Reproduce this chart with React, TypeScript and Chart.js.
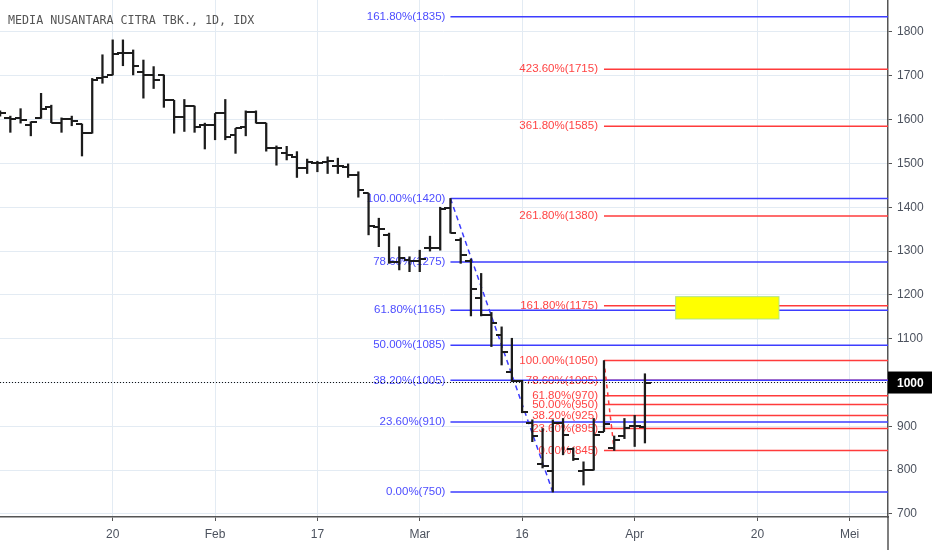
import React, { useEffect, useRef } from 'react';
import { Chart, registerables } from 'chart.js';

Chart.register(...registerables);

// daily OHLC, MNCN, mid Jan -> 2 Apr 2020 (index 0 = first visible bar)
const opens = [
  1612, 1603, 1603, 1588, 1603, 1629, 1593, 1601, 1589, 1569,
  1694, 1702, 1751, 1752, 1709, 1702, 1702, 1644, 1607, 1631,
  1588, 1588, 1614, 1565, 1584, 1618, 1592, 1535, 1523, 1515,
  1489, 1502, 1504, 1494, 1491, 1474, 1432, 1356, 1337, 1275,
  1280, 1278, 1306, 1306, 1398, 1325, 1277, 1192, 1155, 1108,
  1025, 1003, 908, 813, 797, 907, 849, 797, 800, 888,
  850, 878, 901, 899,
];
const highs = [
  1620, 1608, 1625, 1595, 1660, 1633, 1604, 1608, 1590, 1694,
  1748, 1782, 1782, 1759, 1736, 1721, 1702, 1644, 1646, 1631,
  1592, 1614, 1646, 1580, 1620, 1620, 1592, 1540, 1539, 1527,
  1510, 1505, 1515, 1512, 1499, 1481, 1432, 1375, 1341, 1310,
  1287, 1302, 1334, 1400, 1420, 1330, 1282, 1249, 1160, 1127,
  1101, 1005, 915, 895, 915, 918, 851, 819, 918, 1050,
  878, 918, 925, 1020,
];
const lows = [
  1608, 1571, 1592, 1563, 1603, 1593, 1571, 1586, 1517, 1569,
  1683, 1702, 1723, 1702, 1649, 1671, 1628, 1569, 1573, 1571,
  1533, 1554, 1554, 1523, 1563, 1592, 1528, 1496, 1508, 1468,
  1477, 1481, 1477, 1477, 1468, 1423, 1337, 1310, 1272, 1257,
  1253, 1253, 1300, 1302, 1341, 1272, 1152, 1152, 1082, 1040,
  1002, 931, 865, 805, 750, 835, 822, 766, 800, 888,
  845, 872, 854, 862,
];
const closes = [
  1616, 1601, 1598, 1595, 1624, 1593, 1601, 1597, 1569, 1690,
  1698, 1749, 1752, 1722, 1702, 1690, 1645, 1605, 1631, 1584,
  1588, 1614, 1561, 1580, 1618, 1592, 1535, 1535, 1519, 1489,
  1504, 1500, 1505, 1494, 1474, 1439, 1357, 1350, 1275, 1285,
  1278, 1283, 1308, 1395, 1341, 1290, 1213, 1155, 1135, 1070,
  1003, 933, 878, 810, 907, 880, 825, 800, 880, 905,
  868, 896, 900, 1000,
];

const xTickIdx = [11, 21, 31, 41, 51, 62, 74, 83];
const xTickLabels = ['20', 'Feb', '17', 'Mar', '16', 'Apr', '20', 'Mei'];
const yTicks = [700, 800, 900, 1000, 1100, 1200, 1300, 1400, 1500, 1600, 1700, 1800];

// fib retracement of the 1420 -> 750 drop
const retraceLevels = [1835, 1420, 1275, 1165, 1085, 1005, 910, 750];
const retracePct = ['161.80', '100.00', '78.60', '61.80', '50.00', '38.20', '23.60', '0.00'];
const swingIdx = [44, 54];
const swingPrice = [1420, 750];

// fib extension of the 1050 -> 845 swing
const extLevels = [1715, 1585, 1380, 1175, 1050, 1005, 970, 950, 925, 895, 845];
const extPct = ['423.60', '361.80', '261.80', '161.80', '100.00', '78.60', '61.80', '50.00', '38.20', '23.60', '0.00'];
const extIdx = [59, 60];
const extPrice = [1050, 845];

const boxIdx = [66, 76.1];
const boxPrice = [1145, 1196];
const lastPrice = 1000;

const X_MIN = -0.011;
const X_MAX = 86.75;
const Y_MIN = 693.1;
const Y_MAX = 1873;

const BLUE = '#3d3dff';
const RED = '#ff3b3b';
const BAR = '#1c1c1c';

function tickImage(side: 'left' | 'right') {
  const c = document.createElement('canvas');
  c.width = 12;
  c.height = 2;
  const g = c.getContext('2d')!;
  g.fillStyle = BAR;
  if (side === 'left') g.fillRect(0, 0, 6, 2);
  else g.fillRect(6, 0, 6, 2);
  return c;
}

// no label padding around the plot: it runs to the canvas edges like the original
const noPad = (scale: any) => {
  scale.paddingTop = 0;
  scale.paddingBottom = 0;
  scale.paddingLeft = 0;
  scale.paddingRight = 0;
};

const fibPlugin = {
  id: 'fibLabels',
  beforeDatasetsDraw(chart: any) {
    const { ctx, scales } = chart;
    ctx.save();
    ctx.font = "11.5px 'Liberation Sans', Arial, sans-serif";
    ctx.textAlign = 'right';
    ctx.textBaseline = 'middle';
    const bx = scales.x.getPixelForValue(swingIdx[0]) - 5;
    ctx.fillStyle = '#4d4dff';
    retraceLevels.forEach((lv, i) => {
      ctx.fillText(`${retracePct[i]}%(${lv})`, bx, scales.y.getPixelForValue(lv));
    });
    const rx = scales.x.getPixelForValue(extIdx[0]) - 6;
    ctx.fillStyle = '#ff4444';
    extLevels.forEach((lv, i) => {
      ctx.fillText(`${extPct[i]}%(${lv})`, rx, scales.y.getPixelForValue(lv));
    });
    ctx.restore();
  },
  afterDatasetsDraw(chart: any) {
    const { ctx, scales } = chart;
    const x0 = scales.x.getPixelForValue(boxIdx[0]);
    const x1 = scales.x.getPixelForValue(boxIdx[1]);
    const y0 = scales.y.getPixelForValue(boxPrice[1]);
    const y1 = scales.y.getPixelForValue(boxPrice[0]);
    ctx.save();
    ctx.fillStyle = '#ffff00';
    ctx.fillRect(x0, y0, x1 - x0, y1 - y0);
    ctx.strokeStyle = 'rgba(170,225,140,0.9)';
    ctx.lineWidth = 1;
    ctx.strokeRect(x0, y0, x1 - x0, y1 - y0);
    ctx.restore();
  },
  afterDraw(chart: any) {
    const { ctx, scales, chartArea } = chart;
    ctx.save();
    ctx.font = "11.7px 'DejaVu Sans Mono', monospace";
    ctx.fillStyle = '#555555';
    ctx.textAlign = 'left';
    ctx.textBaseline = 'middle';
    ctx.fillText('MEDIA NUSANTARA CITRA TBK., 1D, IDX', 8, 21);

    // axis line continues into the corner
    ctx.strokeStyle = '#555555';
    ctx.lineWidth = 1.5;
    ctx.beginPath();
    ctx.moveTo(chartArea.right, chartArea.bottom);
    ctx.lineTo(chartArea.right, chart.height);
    ctx.stroke();

    const py = scales.y.getPixelForValue(lastPrice);
    ctx.fillStyle = '#000000';
    ctx.fillRect(chartArea.right, py - 11, chart.width - chartArea.right, 22);
    ctx.fillStyle = '#ffffff';
    ctx.font = "bold 12px 'Liberation Sans', Arial, sans-serif";
    ctx.fillText(String(lastPrice), chartArea.right + 9, py + 1);
    ctx.restore();
  },
};

function levelLine(level: number, fromIdx: number, color: string) {
  return {
    type: 'line' as const,
    data: [{ x: fromIdx, y: level }, { x: X_MAX, y: level }],
    borderColor: color,
    borderWidth: 1.5,
    pointRadius: 0,
    order: 10,
  };
}

export default function App() {
  const canvasRef = useRef<HTMLCanvasElement>(null);
  const chartRef = useRef<Chart | null>(null);

  useEffect(() => {
    if (!canvasRef.current) return;
    const leftTick = tickImage('left');
    const rightTick = tickImage('right');
    const idx = opens.map((_, i) => i);

    const datasets: any[] = [
      ...retraceLevels.map((lv) => levelLine(lv, swingIdx[0], BLUE)),
      ...extLevels.map((lv) => levelLine(lv, extIdx[0], RED)),
      {
        type: 'line',
        data: [{ x: X_MIN, y: lastPrice }, { x: X_MAX, y: lastPrice }],
        borderColor: '#111111',
        borderWidth: 1,
        borderDash: [1, 2],
        pointRadius: 0,
        order: 9,
      },
      {
        type: 'line',
        data: swingIdx.map((x, i) => ({ x, y: swingPrice[i] })),
        borderColor: BLUE,
        borderWidth: 1.5,
        borderDash: [5, 4],
        pointRadius: 0,
        order: 9,
      },
      {
        type: 'line',
        data: extIdx.map((x, i) => ({ x, y: extPrice[i] })),
        borderColor: RED,
        borderWidth: 1.5,
        borderDash: [4, 4],
        pointRadius: 0,
        order: 9,
      },
      {
        type: 'bar',
        data: idx.map((i) => ({ x: i, y: [lows[i], highs[i]] })),
        backgroundColor: BAR,
        barThickness: 1.6,
        order: 2,
      },
      {
        type: 'scatter',
        data: idx.map((i) => ({ x: i, y: opens[i] })),
        pointStyle: leftTick,
        pointRadius: 5,
        order: 1,
      },
      {
        type: 'scatter',
        data: idx.map((i) => ({ x: i, y: closes[i] })),
        pointStyle: rightTick,
        pointRadius: 5,
        order: 1,
      },
    ];

    chartRef.current = new Chart(canvasRef.current, {
      type: 'bar',
      data: { datasets },
      options: {
        animation: false,
        responsive: true,
        maintainAspectRatio: false,
        layout: { padding: 0, autoPadding: false },
        plugins: { legend: { display: false }, tooltip: { enabled: false } },
        scales: {
          x: {
            type: 'linear',
            min: X_MIN,
            max: X_MAX,
            offset: false,
            afterBuildTicks: (scale: any) => {
              scale.ticks = xTickIdx.map((v) => ({ value: v }));
            },
            afterFit: (scale: any) => {
              scale.height = 33;
              noPad(scale);
            },
            grid: { color: '#e3ebf3', offset: false, tickLength: 4, tickColor: '#555555' },
            border: { color: '#555555', width: 1.5 },
            ticks: {
              autoSkip: false,
              maxRotation: 0,
              padding: 6,
              color: '#4c525e',
              font: { family: "'Liberation Sans', Arial, sans-serif", size: 12 },
              callback: (v: any) => {
                const k = xTickIdx.indexOf(Number(v));
                return k >= 0 ? xTickLabels[k] : '';
              },
            },
          },
          y: {
            type: 'linear',
            position: 'right',
            min: Y_MIN,
            max: Y_MAX,
            afterBuildTicks: (scale: any) => {
              scale.ticks = yTicks.map((v) => ({ value: v }));
            },
            afterFit: (scale: any) => {
              scale.width = 44;
              noPad(scale);
            },
            grid: { color: '#e3ebf3', tickLength: 4, tickColor: '#555555' },
            border: { color: '#555555', width: 1.5 },
            ticks: {
              padding: 5,
              color: '#4c525e',
              font: { family: "'Liberation Sans', Arial, sans-serif", size: 12 },
              callback: (v: any) => String(v),
            },
          },
        },
      },
      plugins: [fibPlugin],
    } as any);

    return () => {
      if (chartRef.current) {
        chartRef.current.destroy();
        chartRef.current = null;
      }
    };
  }, []);

  return (
    <div style={{ position: 'fixed', left: 0, top: 0, width: 932, height: 550, background: '#ffffff' }}>
      <canvas ref={canvasRef} />
    </div>
  );
}
